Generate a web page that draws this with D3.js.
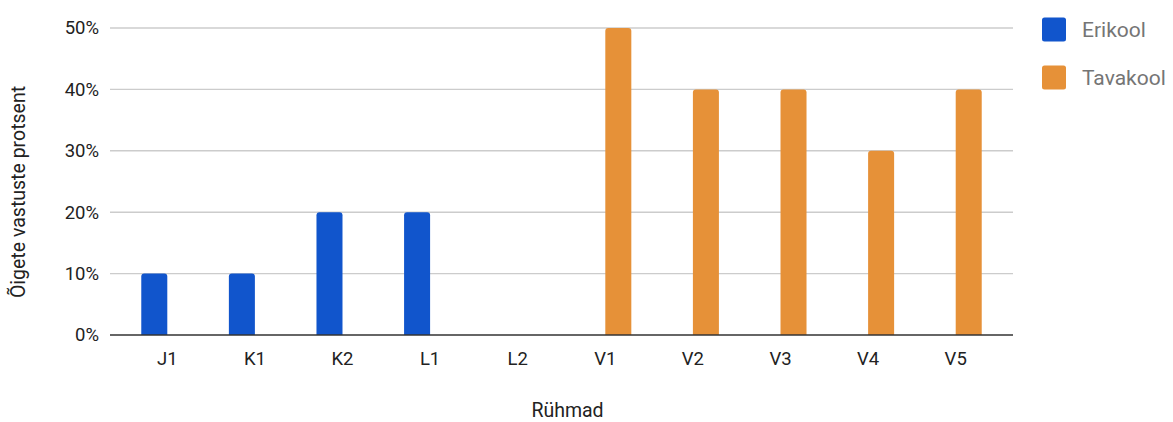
<!DOCTYPE html>
<html>
<head>
<meta charset="utf-8">
<script src="https://cdn.jsdelivr.net/npm/d3@7"></script>
<style>
  html, body { margin: 0; padding: 0; background: #fff; }
  svg { display: block; font-family: Roboto, "Noto Sans", Arial, sans-serif; }
</style>
</head>
<body>
<svg id="chart" width="1173" height="422"></svg>
<script>
// Groups on the x axis
const groups = ["J1", "K1", "K2", "L1", "L2", "V1", "V2", "V3", "V4", "V5"];
// Share of correct answers (%) per school type; null = no value for that group
const erikool  = [10, 10, 20, 20, null, null, null, null, null, null];
const tavakool = [null, null, null, null, null, 50, 40, 40, 30, 40];
const seriesNames = ["Erikool", "Tavakool"];
const seriesColors = ["#1155cc", "#e69138"];
const yTicks = [0, 10, 20, 30, 40, 50];
const xTitle = "Rühmad";
const yTitle = "Õigete vastuste protsent";

const svg = d3.select("#chart");
const plot = { left: 110, right: 1013, top: 28, bottom: 335 };

const x = d3.scaleBand()
  .domain(groups)
  .range([plot.left, plot.right])
  .paddingInner(0.406)
  .paddingOuter(0.357);

const xSub = d3.scaleBand()
  .domain(seriesNames)
  .range([0, x.bandwidth()]);

const y = d3.scaleLinear()
  .domain([0, 50])
  .range([plot.bottom, plot.top]);

const color = d3.scaleOrdinal().domain(seriesNames).range(seriesColors);

// Gridlines
svg.append("g")
  .selectAll("line")
  .data(yTicks.filter(d => d !== 0))
  .join("line")
  .attr("x1", plot.left).attr("x2", plot.right)
  .attr("y1", d => y(d)).attr("y2", d => y(d))
  .attr("stroke", "#cccccc")
  .attr("stroke-width", 1.4);

// Y axis labels
const yAxis = d3.axisLeft(y)
  .tickValues(yTicks)
  .tickFormat(d => d + "%")
  .tickSize(0)
  .tickPadding(11);
const yg = svg.append("g")
  .attr("transform", `translate(${plot.left},0)`)
  .call(yAxis);
yg.select(".domain").remove();
yg.selectAll("text")
  .attr("font-size", 18.5)
  .attr("fill", "#222")
  .attr("font-family", "Roboto, sans-serif");

// Bars with rounded top corners
function barPath(x0, w, yTop, yBase, r) {
  r = Math.min(r, w / 2, (yBase - yTop) / 2);
  return `M${x0},${yBase}` +
    `V${yTop + r}` +
    `Q${x0},${yTop} ${x0 + r},${yTop}` +
    `H${x0 + w - r}` +
    `Q${x0 + w},${yTop} ${x0 + w},${yTop + r}` +
    `V${yBase}Z`;
}

const rows = [];
groups.forEach((g, i) => {
  [erikool, tavakool].forEach((vals, s) => {
    if (vals[i] !== null) rows.push({ group: g, series: seriesNames[s], value: vals[i] });
  });
});

svg.append("g")
  .selectAll("path")
  .data(rows)
  .join("path")
  .attr("d", d => barPath(x(d.group) + xSub(d.series), xSub.bandwidth(), y(d.value), y(0), 3))
  .attr("fill", d => color(d.series));

// Baseline
svg.append("line")
  .attr("x1", plot.left).attr("x2", plot.right)
  .attr("y1", y(0)).attr("y2", y(0))
  .attr("stroke", "#333333")
  .attr("stroke-width", 1.6);

// X axis labels
const xAxis = d3.axisBottom(x).tickSize(0).tickPadding(17);
const xg = svg.append("g")
  .attr("transform", `translate(0,${plot.bottom})`)
  .call(xAxis);
xg.select(".domain").remove();
xg.selectAll("text")
  .attr("font-size", 18.5)
  .attr("fill", "#222")
  .attr("font-family", "Roboto, sans-serif");

// Axis titles
svg.append("text")
  .attr("x", (plot.left + plot.right) / 2 + 6)
  .attr("y", 417)
  .attr("text-anchor", "middle")
  .attr("font-size", 19.5)
  .attr("fill", "#222")
  .text(xTitle);

svg.append("text")
  .attr("transform", `translate(25,192) rotate(-90)`)
  .attr("text-anchor", "middle")
  .attr("font-size", 19.5)
  .attr("fill", "#222")
  .text(yTitle);

// Legend
const legend = svg.append("g")
  .selectAll("g")
  .data(seriesNames)
  .join("g")
  .attr("transform", (d, i) => `translate(1042,${17.5 + i * 48})`);
legend.append("rect")
  .attr("width", 24).attr("height", 24)
  .attr("rx", 2.5)
  .attr("fill", d => color(d));
legend.append("text")
  .attr("x", 40)
  .attr("y", 19.5)
  .attr("font-size", 21)
  .attr("fill", "#757575")
  .text(d => d);
</script>
</body>
</html>
